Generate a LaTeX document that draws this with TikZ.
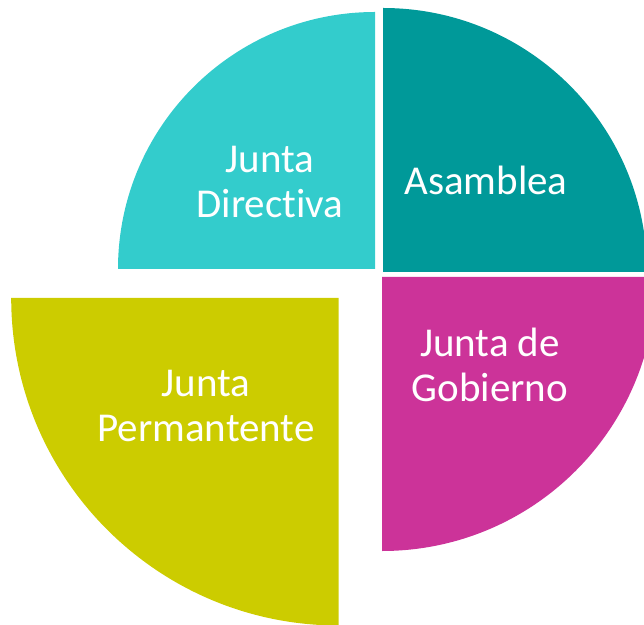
\documentclass[tikz,border=0pt]{standalone}
\usepackage{fontspec}
\setmainfont[Ligatures=NoCommon]{Carlito}
\definecolor{cteal}{RGB}{0,153,153}
\definecolor{ccyan}{RGB}{51,204,204}
\definecolor{cmag}{RGB}{204,51,153}
\definecolor{coli}{RGB}{204,204,0}
\tikzset{
  lbl/.style={text=white, align=center, inner sep=0pt, anchor=base,
    font=\fontsize{41pt}{45pt}\selectfont}
}
\begin{document}
\begin{tikzpicture}[x=1pt,y=1pt]
\useasboundingbox (0,0) rectangle (644,624);
\clip (0,0) rectangle (644,624);
% sectors
\fill[cteal] (383,352) -- ++(0,264) arc[start angle=90,end angle=0,radius=264] -- cycle;
\fill[ccyan] (375,355) -- ++(-257,0) arc[start angle=180,end angle=90,radius=257] -- cycle;
\fill[cmag] (382,347) -- ++(274,0) arc[start angle=0,end angle=-90,radius=274] -- cycle;
\fill[coli] (338.7,326) -- ++(-327.5,0) arc[start angle=180,end angle=270,radius=327.5] -- cycle;
% labels (base anchor = baseline of last line)
\node[lbl] (jd) at (270,406) {Junta\\Directiva};
\node[lbl] (as) at (486,429) {Asamblea};
\node[lbl] (jg) at (490,222.3) {Junta de\\Gobierno};
\node[lbl] (jp) at (206,182.3) {Junta\\Permantente};
\end{tikzpicture}
\end{document}
